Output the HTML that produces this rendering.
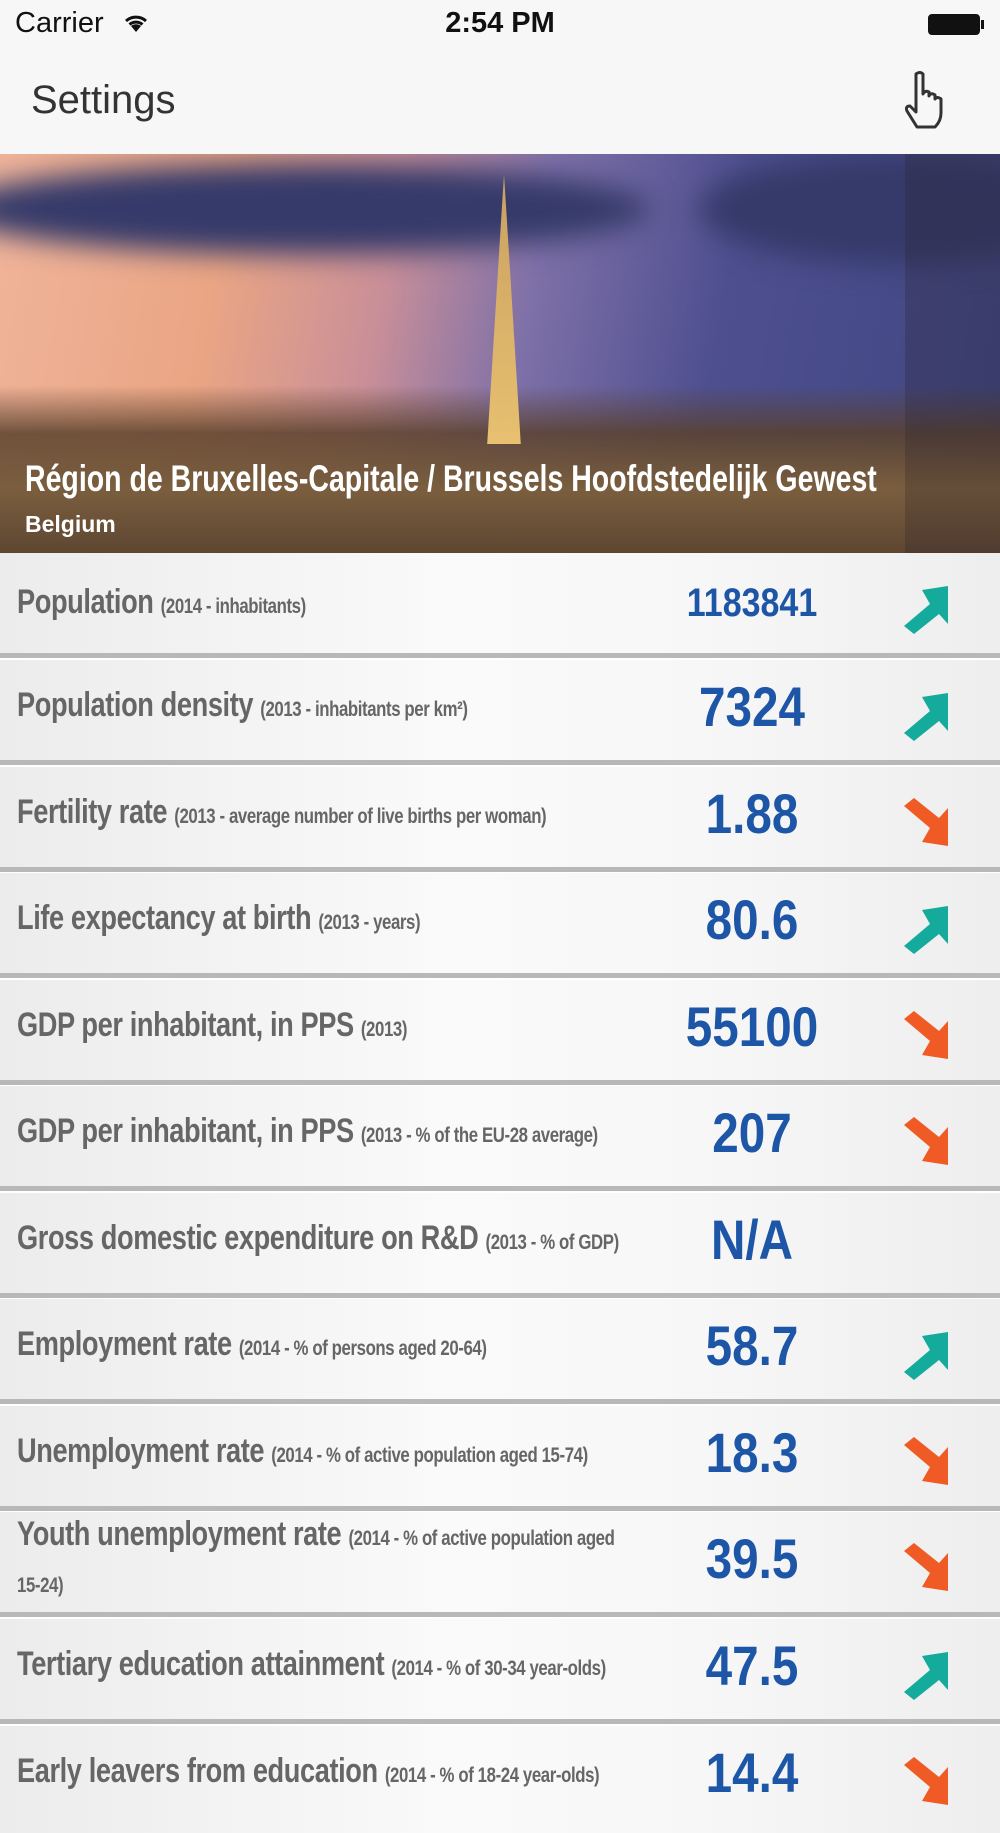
<!DOCTYPE html>
<html><head><meta charset="utf-8">
<style>
*{margin:0;padding:0;box-sizing:border-box}
body{width:1000px;height:1778px;overflow:hidden;background:#f4f4f4;font-family:"Liberation Sans",sans-serif;position:relative}
.status{position:absolute;left:0;top:0;width:1000px;height:154px;background:#f7f7f7}
.hero{position:absolute;left:0;top:154px;width:1000px;height:399px;overflow:hidden;
background:
linear-gradient(180deg,rgba(0,0,0,0) 58%,rgba(90,65,45,0.85) 70%,#7a5e3e 84%,#5e4632 100%),
linear-gradient(100deg,#f0b49a 0%,#eaa584 22%,#c98f98 38%,#7e70a8 52%,#4e4f8f 70%,#3f4680 100%);}
.hero .cloud{position:absolute;border-radius:50%;background:#353a6a;filter:blur(14px)}
.row{position:absolute;left:0;width:1000px;height:107px;background:linear-gradient(90deg,#ececec 0%,#fafafa 45%,#f7f7f7 70%,#eeeeee 100%)}
.row .sep{position:absolute;left:0;bottom:0;width:1000px;height:7px;background:#b8b8b8;border-bottom:2px solid #fff}
.lab{position:absolute;left:17px;white-space:nowrap;font-family:"Liberation Sans Narrow","Liberation Sans",sans-serif;font-weight:bold;color:#666;font-size:34px;transform:scaleX(0.8);transform-origin:left bottom;letter-spacing:-0.5px}
.lab small{font-size:21px}
.val{position:absolute;width:200px;left:652px;text-align:center;font-family:"Liberation Sans Narrow","Liberation Sans",sans-serif;font-weight:bold;color:#1d56a6;font-size:56px;transform:scaleX(0.85)}
.arr{position:absolute;left:902px;width:48px;height:50px}
</style></head><body>
<div class="status">
<div style="position:absolute;left:15px;top:7px;font-size:29px;color:#111">Carrier</div>
<svg style="position:absolute;left:122px;top:12px" width="28" height="22" viewBox="0 0 28 22"><path d="M14 20 L9 14 A8 8 0 0 1 19 14 Z" fill="#111"/><path d="M4 9 A15 15 0 0 1 24 9" stroke="#111" stroke-width="3" fill="none"/><path d="M7.5 12.5 A10 10 0 0 1 20.5 12.5" stroke="#111" stroke-width="3" fill="none"/></svg>
<div style="position:absolute;left:0;width:1000px;top:7px;text-align:center;font-size:29px;font-weight:bold;color:#111">2:54 PM</div>
<div style="position:absolute;left:928px;top:14px;width:52px;height:21px;border:2px solid #111;border-radius:4px;background:#111"></div>
<div style="position:absolute;left:981px;top:20px;width:3px;height:9px;background:#111"></div>
<div style="position:absolute;left:31px;top:78px;font-size:40px;color:#333">Settings</div>
<svg style="position:absolute;left:900px;top:70px" width="52" height="60" viewBox="0 0 52 60"><path d="M16 4 q4-3 7 0 v20 q2-4 6-2 v4 q2-4 6-1 v4 q2-3 6 0 v14 q0 8-6 14 h-18 l-10-16 q-2-5 3-5 l6 6 V4z" fill="none" stroke="#333" stroke-width="3" stroke-linejoin="round"/></svg>
</div>
<div class="hero">
<div class="cloud" style="left:-50px;top:10px;width:700px;height:90px"></div>
<div class="cloud" style="left:700px;top:0px;width:400px;height:110px"></div>
<div style="position:absolute;left:476px;top:20px;width:56px;height:270px;background:linear-gradient(180deg,#c9a060,#e8c070);clip-path:polygon(50% 0,62% 40%,80% 100%,20% 100%,38% 40%)"></div>
<div style="position:absolute;left:905px;top:0;width:95px;height:399px;background:rgba(40,30,40,0.25)"></div>
<div style="position:absolute;left:25px;top:304px;white-space:nowrap;font-family:'Liberation Sans Narrow','Liberation Sans',sans-serif;font-weight:bold;color:#fff;font-size:37px;transform:scaleX(0.77);transform-origin:left">Région de Bruxelles-Capitale / Brussels Hoofdstedelijk Gewest</div>
<div style="position:absolute;left:25px;top:357px;font-family:'Liberation Sans Narrow','Liberation Sans',sans-serif;font-weight:bold;color:#fff;font-size:23px">Belgium</div>
</div>

<div class="row" style="top:553px"><div class="lab" style="top:30px">Population <small>(2014 - inhabitants)</small></div><div class="val" style="top:28px;font-size:40px">1183841</div><svg class="arr" style="top:31px" viewBox="0 0 48 50"><polygon points="46,2 46,40 37,30 12,50 2,42 28,20 20,6" fill="#14aa9c"/></svg><div class="sep"></div></div>
<div class="row" style="top:660px"><div class="lab" style="top:26px">Population density <small>(2013 - inhabitants per km²)</small></div><div class="val" style="top:14px">7324</div><svg class="arr" style="top:31px" viewBox="0 0 48 50"><polygon points="46,2 46,40 37,30 12,50 2,42 28,20 20,6" fill="#14aa9c"/></svg><div class="sep"></div></div>
<div class="row" style="top:767px"><div class="lab" style="top:26px">Fertility rate <small>(2013 - average number of live births per woman)</small></div><div class="val" style="top:14px">1.88</div><svg class="arr" style="top:31px" viewBox="0 0 48 50"><polygon points="46,48 46,10 37,20 12,0 2,8 28,30 20,44" fill="#f05a24"/></svg><div class="sep"></div></div>
<div class="row" style="top:873px"><div class="lab" style="top:26px">Life expectancy at birth <small>(2013 - years)</small></div><div class="val" style="top:14px">80.6</div><svg class="arr" style="top:31px" viewBox="0 0 48 50"><polygon points="46,2 46,40 37,30 12,50 2,42 28,20 20,6" fill="#14aa9c"/></svg><div class="sep"></div></div>
<div class="row" style="top:980px"><div class="lab" style="top:26px">GDP per inhabitant, in PPS <small>(2013)</small></div><div class="val" style="top:14px">55100</div><svg class="arr" style="top:31px" viewBox="0 0 48 50"><polygon points="46,48 46,10 37,20 12,0 2,8 28,30 20,44" fill="#f05a24"/></svg><div class="sep"></div></div>
<div class="row" style="top:1086px"><div class="lab" style="top:26px">GDP per inhabitant, in PPS <small>(2013 - % of the EU-28 average)</small></div><div class="val" style="top:14px">207</div><svg class="arr" style="top:31px" viewBox="0 0 48 50"><polygon points="46,48 46,10 37,20 12,0 2,8 28,30 20,44" fill="#f05a24"/></svg><div class="sep"></div></div>
<div class="row" style="top:1193px"><div class="lab" style="top:26px">Gross domestic expenditure on R&amp;D <small>(2013 - % of GDP)</small></div><div class="val" style="top:14px">N/A</div><div class="sep"></div></div>
<div class="row" style="top:1299px"><div class="lab" style="top:26px">Employment rate <small>(2014 - % of persons aged 20-64)</small></div><div class="val" style="top:14px">58.7</div><svg class="arr" style="top:31px" viewBox="0 0 48 50"><polygon points="46,2 46,40 37,30 12,50 2,42 28,20 20,6" fill="#14aa9c"/></svg><div class="sep"></div></div>
<div class="row" style="top:1406px"><div class="lab" style="top:26px">Unemployment rate <small>(2014 - % of active population aged 15-74)</small></div><div class="val" style="top:14px">18.3</div><svg class="arr" style="top:31px" viewBox="0 0 48 50"><polygon points="46,48 46,10 37,20 12,0 2,8 28,30 20,44" fill="#f05a24"/></svg><div class="sep"></div></div>
<div class="row" style="top:1512px"><div class="lab" style="top:3px">Youth unemployment rate <small>(2014 - % of active population aged</small></div><div class="lab" style="top:50px"><small>15-24)</small></div><div class="val" style="top:14px">39.5</div><svg class="arr" style="top:31px" viewBox="0 0 48 50"><polygon points="46,48 46,10 37,20 12,0 2,8 28,30 20,44" fill="#f05a24"/></svg><div class="sep"></div></div>
<div class="row" style="top:1619px"><div class="lab" style="top:26px">Tertiary education attainment <small>(2014 - % of 30-34 year-olds)</small></div><div class="val" style="top:14px">47.5</div><svg class="arr" style="top:31px" viewBox="0 0 48 50"><polygon points="46,2 46,40 37,30 12,50 2,42 28,20 20,6" fill="#14aa9c"/></svg><div class="sep"></div></div>
<div class="row" style="top:1726px"><div class="lab" style="top:26px">Early leavers from education <small>(2014 - % of 18-24 year-olds)</small></div><div class="val" style="top:14px">14.4</div><svg class="arr" style="top:31px" viewBox="0 0 48 50"><polygon points="46,48 46,10 37,20 12,0 2,8 28,30 20,44" fill="#f05a24"/></svg></div>
</body></html>
